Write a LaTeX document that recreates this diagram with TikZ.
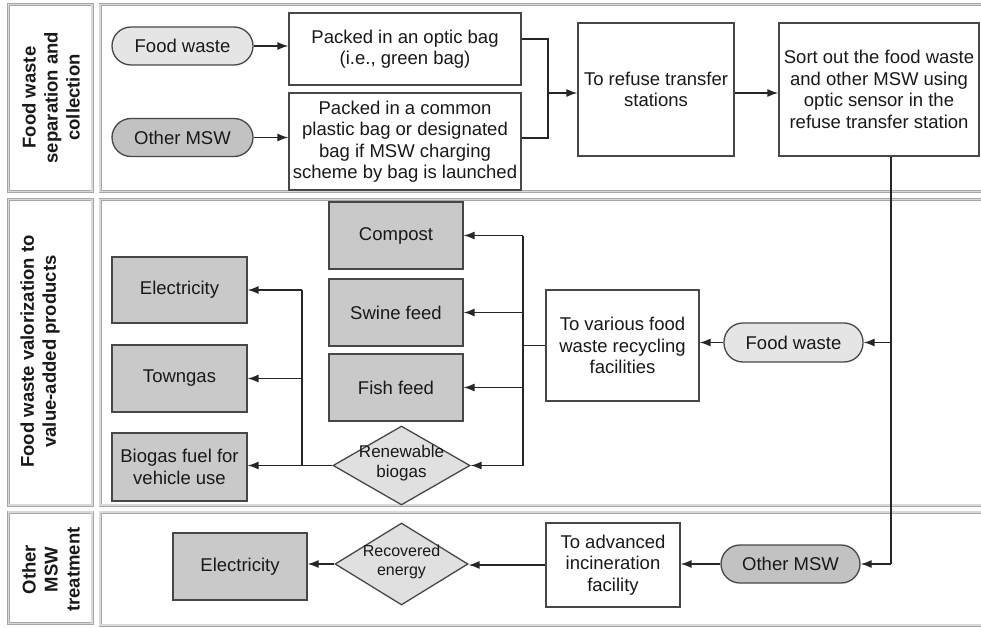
\documentclass[tikz,border=0pt]{standalone}
\usepackage{fontspec}
\setmainfont{Liberation Sans}
\usetikzlibrary{shapes.geometric,arrows.meta}
\begin{document}
\begin{tikzpicture}[x=1pt,y=-1pt,
  txt/.style={font=\fontsize{18.5}{21.5}\selectfont, text=black!90, align=center},
  panel/.style={draw=gray!70, line width=0.9pt, double=gray!30, double distance=1.2pt},
  box/.style={txt, draw=black!72, line width=1.3pt, fill=white, inner sep=0pt},
  prod/.style={box, fill=gray!42},
  pill/.style={txt, draw=black!72, line width=1.3pt, rounded corners=19pt, inner sep=0pt},
  pilllight/.style={pill, fill=gray!20},
  pilldark/.style={pill, fill=gray!48},
  dia/.style={diamond, draw=black!72, line width=1.3pt, fill=gray!24, inner sep=0pt},
  dtext/.style={txt, font=\fontsize{17}{20.5}\selectfont},
  lane/.style={txt, rotate=90, font=\fontsize{18.5}{22}\selectfont\bfseries},
  conn/.style={draw=black!85, line width=1.4pt},
  arr/.style={conn, -{Latex[length=11pt,width=8pt]}}
]
\path[use as bounding box, clip] (0,0) rectangle (981,628);

% swim lane frames
\draw[panel] (8.5,4.5) rectangle (92,191.5);
\draw[panel] (8.5,199.5) rectangle (92,505);
\draw[panel] (8.5,512) rectangle (92,623.5);
\draw[panel] (100,4.5) rectangle (995,191.5);
\draw[panel] (100,199.5) rectangle (995,505);
\draw[panel] (100,512) rectangle (995,625);

% lane titles
\node[lane] (lane1) at (51,97.5) {Food waste\\separation and\\collection};
\node[lane] (lane2) at (40,351.5) {Food waste valorization to\\value-added products};
\node[lane] (lane3) at (51,569.5) {Other\\MSW\\treatment};

% separation and collection
\node[pilllight, minimum width=141pt, minimum height=38pt] (fw1) at (182.5,46) {Food waste};
\node[pilldark, minimum width=141pt, minimum height=38pt] (om1) at (182.5,137.5) {Other MSW};
\node[box, minimum width=232pt, minimum height=72pt] (pk1) at (405,49) {Packed in an optic bag\\(i.e., green bag)};
\node[box, minimum width=232pt, minimum height=97pt] (pk2) at (405,141.5) {Packed in a common\\plastic bag or designated\\bag if MSW charging\\scheme by bag is launched};
\node[box, minimum width=156pt, minimum height=133pt] (rts) at (656,89.5) {To refuse transfer\\stations};
\node[box, minimum width=200pt, minimum height=133pt] (sort) at (879,89.5) {Sort out the food waste\\and other MSW using\\optic sensor in the\\refuse transfer station};

\coordinate (j1) at (548,39);
\coordinate (j2) at (548,138);
\coordinate (j3) at (548,93);
\coordinate (trunk) at (891,0);

\draw[arr] (fw1.east) -- (fw1.east -| pk1.west);
\draw[arr] (om1.east) -- (om1.east -| pk2.west);
\draw[conn] (pk1.east |- j1) -- (j1) -- (j2) -- (pk2.east |- j2);
\draw[arr] (j3) -- (j3 -| rts.west);
\draw[arr] (rts.east |- j3) -- (sort.west |- j3);

% food waste valorization
\node[prod, minimum width=134pt, minimum height=67pt] (comp) at (396,235.5) {Compost};
\node[prod, minimum width=134pt, minimum height=67pt] (swine) at (396,312.5) {Swine feed};
\node[prod, minimum width=134pt, minimum height=67pt] (fish) at (396,387.5) {Fish feed};
\node[dia, minimum width=137pt, minimum height=79pt] (bio) at (401.5,465.5) {};
\node[dtext] (biot) at (401.5,463) {Renewable\\biogas};
\node[prod, minimum width=135pt, minimum height=66pt] (elec) at (179.5,290) {Electricity};
\node[prod, minimum width=135pt, minimum height=67pt] (town) at (179.5,378.5) {Towngas};
\node[prod, minimum width=135pt, minimum height=68pt] (fuel) at (179.5,467) {Biogas fuel for\\vehicle use};
\node[box, minimum width=153pt, minimum height=111pt] (tv) at (622.5,345.5) {To various food\\waste recycling\\facilities};
\node[pilllight, minimum width=139pt, minimum height=39pt] (fw2) at (793.5,342.5) {Food waste};

\coordinate (lx) at (302,0);
\coordinate (rx) at (523,0);

\draw[arr] (bio.west) -- (bio.west -| fuel.east);
\draw[conn] (bio.west -| lx) -- (elec.east -| lx);
\draw[arr] (elec.east -| lx) -- (elec.east);
\draw[arr] (town.east -| lx) -- (town.east);

\draw[conn] (tv.west) -- (tv.west -| rx);
\draw[conn] (comp.east -| rx) -- (bio.east -| rx);
\draw[arr] (comp.east -| rx) -- (comp.east);
\draw[arr] (swine.east -| rx) -- (swine.east);
\draw[arr] (fish.east -| rx) -- (fish.east);
\draw[arr] (bio.east -| rx) -- (bio.east);

\draw[arr] (fw2.west) -- (fw2.west -| tv.east);

% other MSW treatment
\node[prod, minimum width=134pt, minimum height=67pt] (el3) at (240,566.5) {Electricity};
\node[dia, minimum width=133pt, minimum height=82pt] (rec) at (401.5,564) {};
\node[dtext, font=\fontsize{16}{19.5}\selectfont] (rect) at (401.5,562) {Recovered\\energy};
\node[box, minimum width=134pt, minimum height=84pt] (adv) at (613,565) {To advanced\\incineration\\facility};
\node[pilldark, minimum width=139pt, minimum height=38pt] (om3) at (790.5,564) {Other MSW};

\draw[arr] (om3.west) -- (om3.west -| adv.east);
\draw[arr] (adv.west) -- (adv.west -| rec.east);
\draw[arr] (rec.west) -- (rec.west -| el3.east);

% sorting trunk line
\draw[conn] (sort.south -| trunk) -- (om3.east -| trunk);
\draw[arr] (om3.east -| trunk) -- (om3.east);
\draw[arr] (fw2.east -| trunk) -- (fw2.east);
\end{tikzpicture}
\end{document}
